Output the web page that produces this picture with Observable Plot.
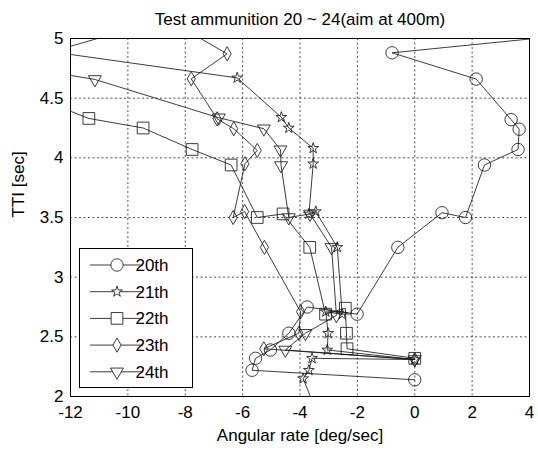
<!DOCTYPE html>
<html><head><meta charset="utf-8">
<script src="https://cdn.jsdelivr.net/npm/d3@7"></script>
<script src="https://cdn.jsdelivr.net/npm/@observablehq/plot@0.6"></script>
<style>body{margin:0;background:#fff} svg{display:block}</style>
</head><body><div id="chart"></div>
<script>
const seriesNames = ["20th", "21th", "22th", "23th", "24th"];
const xTicks = [-12, -10, -8, -6, -4, -2, 0, 2, 4];
const yTicks = [2, 2.5, 3, 3.5, 4, 4.5, 5];
const titleText = "Test ammunition 20 ~ 24(aim at 400m)";
const xLabel = "Angular rate [deg/sec]";
const yLabel = "TTI [sec]";

// 20th (circles)
const s20x = [4.6, -0.79, 2.14, 3.36, 3.64, 3.60, 2.43, 1.77, 0.95, -0.59, -2.01, -3.75, -4.39, -5.03, -5.55, -5.67, 0.0];
const s20y = [5.01, 4.88, 4.66, 4.32, 4.24, 4.07, 3.94, 3.50, 3.54, 3.25, 2.69, 2.75, 2.53, 2.39, 2.32, 2.22, 2.14];
// 21th (stars)
const s21x = [-13, -6.19, -4.65, -4.39, -3.54, -3.54, -3.69, -3.45, -2.70, -2.53, -3.10, -3.02, -3.05, 0.0, -3.58, -3.69, -3.89, -3.3];
const s21y = [4.90, 4.67, 4.34, 4.25, 4.08, 3.95, 3.53, 3.55, 3.25, 2.69, 2.71, 2.53, 2.39, 2.31, 2.32, 2.22, 2.15, 1.8];
// 22th (squares)
const s22x = [-13, -11.36, -9.47, -7.76, -6.40, -5.49, -4.59, -3.66, -3.11, -2.42, -2.38, -2.36, 0.0];
const s22y = [4.485, 4.33, 4.25, 4.07, 3.94, 3.50, 3.53, 3.25, 2.69, 2.74, 2.53, 2.40, 2.32];
// 23th (diamonds)
const s23x = [-13, -8.67, -6.54, -7.79, -6.89, -6.31, -5.49, -5.92, -6.33, -5.93, -5.24, -3.98, -4.04, -5.26, 0.0];
const s23y = [4.865, 5.166, 4.872, 4.662, 4.327, 4.244, 4.062, 3.95, 3.50, 3.55, 3.25, 2.71, 2.53, 2.40, 2.31];
// 24th (down triangles)
const s24x = [-13, -11.15, -6.83, -5.26, -4.68, -4.66, -4.39, -3.65, -2.90, -2.73, -3.81, -4.51, 0.0];
const s24y = [4.73, 4.657, 4.336, 4.244, 4.068, 3.936, 3.50, 3.53, 3.25, 2.68, 2.53, 2.39, 2.31];

const xs = [s20x, s21x, s22x, s23x, s24x];
const ys = [s20y, s21y, s22y, s23y, s24y];
const symbols = ["circle", "star", "square", "diamond", "triangle"];
const radii = [6.2, 3.4, 6.6, 4.3, 4.8];
const rotations = [0, 0, 0, 0, 180];

const rows = [];
seriesNames.forEach((s, k) => xs[k].forEach((x, i) => rows.push({series: s, x, y: ys[k][i]})));

const ink = "#1a1a1a";
const font = "'Liberation Sans', Arial, Helvetica, sans-serif";

const marks = [
  Plot.gridX(xTicks, {stroke: "#222", strokeOpacity: 1, strokeWidth: 0.8, strokeDasharray: "2,2.5"}),
  Plot.gridY(yTicks, {stroke: "#222", strokeOpacity: 1, strokeWidth: 0.8, strokeDasharray: "2,2.5"}),
  Plot.line(rows, {x: "x", y: "y", z: "series", stroke: ink, strokeWidth: 0.85, clip: true}),
  ...seriesNames.map((s, k) => Plot.dot(rows.filter(d => d.series === s), {
    x: "x", y: "y", symbol: symbols[k], r: radii[k], rotate: rotations[k],
    stroke: ink, strokeWidth: 0.85, fill: "none", clip: true
  })),
  Plot.frame({stroke: "black", strokeWidth: 1}),
  Plot.axisX(xTicks, {tickSize: 0, tickPadding: 9, fontSize: 17, label: null, tickFormat: d => String(d)}),
  Plot.axisY(yTicks, {tickSize: 0, tickPadding: 7, fontSize: 17, label: null, tickFormat: d => String(d)}),
  Plot.text([titleText], {frameAnchor: "top", dy: -26, fontSize: 17, fill: "black"}),
  Plot.text([xLabel], {frameAnchor: "bottom", dy: 44, fontSize: 17, fill: "black"}),
  Plot.text([yLabel], {frameAnchor: "left", dx: -52, rotate: -90, fontSize: 17, fill: "black"})
];

const chart = Plot.plot({
  width: 538, height: 450,
  marginLeft: 70, marginRight: 9, marginTop: 38, marginBottom: 54,
  x: {domain: [-12, 4]},
  y: {domain: [2, 5]},
  style: {fontFamily: font, fontSize: "17px", color: "black", background: "white"},
  marks
});
document.getElementById("chart").appendChild(chart);

// Legend box (inside the plot, lower left)
const svg = d3.select(chart);
const lg = svg.append("g").attr("font-family", font).attr("font-size", 17);
lg.append("rect").attr("x", 79.5).attr("y", 248.5).attr("width", 113).attr("height", 139)
  .attr("fill", "white").attr("stroke", "black").attr("stroke-width", 1);
const d3sym = {circle: d3.symbolCircle, star: d3.symbolStar, square: d3.symbolSquare, diamond: d3.symbolDiamond, triangle: d3.symbolTriangle};
seriesNames.forEach((s, k) => {
  const yy = 265 + k * 26.7;
  lg.append("line").attr("x1", 90).attr("x2", 143).attr("y1", yy).attr("y2", yy)
    .attr("stroke", ink).attr("stroke-width", 0.85);
  lg.append("path")
    .attr("d", d3.symbol(d3sym[symbols[k]], radii[k] * radii[k] * Math.PI)())
    .attr("transform", `translate(117,${yy}) rotate(${rotations[k]})`)
    .attr("fill", "white").attr("stroke", ink).attr("stroke-width", 0.85);
  lg.append("text").attr("x", 152).attr("y", yy).attr("dy", "0.35em").attr("fill", "black").text(s);
});
</script>
</body></html>
